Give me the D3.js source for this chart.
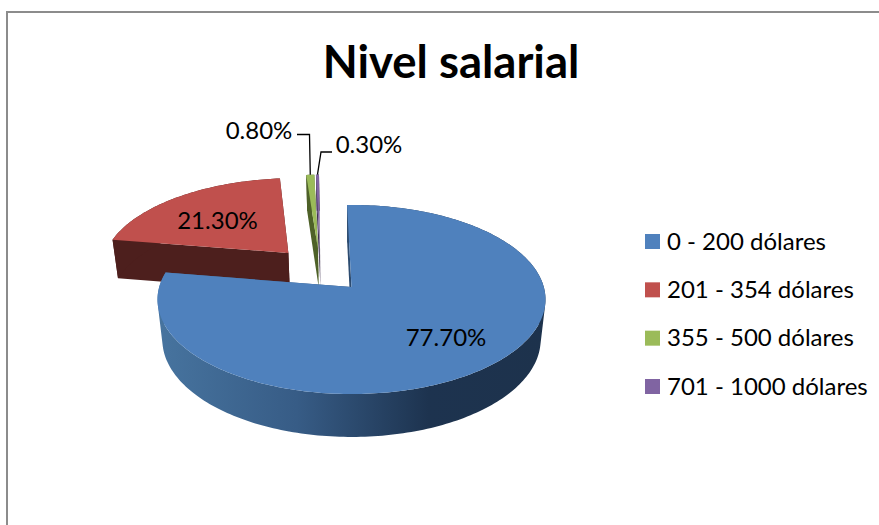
<!DOCTYPE html>
<html><head><meta charset="utf-8">
<script src="https://cdnjs.cloudflare.com/ajax/libs/d3/7.8.5/d3.min.js"></script>
<style>html,body{margin:0;padding:0;background:#fff}svg{display:block}text{font-family:Lato,"Open Sans",sans-serif;fill:#000}</style>
</head><body><svg id="c" width="879" height="525"></svg>
<script>
const categories = ["0 - 200 dólares","201 - 354 dólares","355 - 500 dólares","701 - 1000 dólares"];
const values = [77.7,21.3,0.8,0.3];
const labels = ["77.70%","21.30%","0.80%","0.30%"];
const topColors = ["#4f81bd","#c0504d","#9bbb59","#8064a2"];
const wallColors = ["url(#blueWall)","#4d1f1d","#4e6128","#3f3151"];
const explode = [[0,0],[-0.345,-0.386],[-0.185,-0.44],[-0.175,-0.44]];
const title = "Nivel salarial";

const W=879,H=525;
const svg=d3.select("#c");
const defs=svg.append("defs");
const g=defs.append("linearGradient").attr("id","blueWall").attr("gradientUnits","userSpaceOnUse")
  .attr("x1",157).attr("x2",545).attr("y1",0).attr("y2",0);
[[0,"#47749f"],[0.36,"#375c86"],[0.7,"#1d334f"],[1,"#1d324c"]].forEach(d=>g.append("stop").attr("offset",d[0]).attr("stop-color",d[1]));

// chart border
svg.append("path").attr("d","M7,525V12H879").attr("fill","none").attr("stroke","#8c8c8c").attr("stroke-width",2);

// perspective model of the disc
const cx=351.5,cy=287,A=192.3,B=92.9,K=0.132,M=0.025,D=41,rot=-1.5*Math.PI/180;
function P(u,v,z){const p=1-K*v+M*z;return [cx+A*u/p,cy+(B*v+D*z)/p];}
const pie=d3.pie().sort(null).value(d=>d);
const arcs=pie(values);
function pt(a,r,e,z){const t=a+rot*Math.max(0,Math.cos(a));return P(e[0]+r*Math.sin(t),e[1]-r*Math.cos(t),z);}
const line=d3.line();
function rim(a0,a1,e,z){
  const n=Math.max(2,Math.ceil((a1-a0)/0.02));
  return d3.range(n+1).map(i=>pt(a0+(a1-a0)*i/n,1,e,z));
}
const order=[3,2,1,0];
const sl=svg.selectAll("g.s").data(order).join("g").attr("class","s");
sl.each(function(i){
  const s=d3.select(this),a=arcs[i],e=explode[i],c=wallColors[i];
  const a0=a.startAngle,a1=a.endAngle;
  // radial walls
  [a0,a1].forEach(t=>{
    const q=[pt(t,0,e,0),pt(t,1,e,0),pt(t,1,e,1),pt(t,0,e,1)];
    s.append("path").attr("d",line(q)+"Z").attr("fill",c);
  });
  // outer wall: every rim step as a same-winding subpath of ONE path, so no seams and no cancelling
  const up=rim(a0,a1,e,0),lo=rim(a0,a1,e,1);
  const wall=d3.range(up.length-1).map(j=>{
    const q=[up[j],up[j+1],lo[j+1],lo[j]];
    if(d3.polygonArea(q)>0) q.reverse();
    return line(q)+"Z";
  }).join("");
  s.append("path").attr("d",wall).attr("fill",c);
  // top face
  const face=[pt(a0,0,e,0)].concat(up);
  s.append("path").attr("d",line(face)+"Z").attr("fill",topColors[i]);
});

// leader lines
const lead=[[[297,134.5],[309.5,134.5]],[[332,152],[321,152]]];
[2,3].forEach((i,k)=>{
  const a=arcs[i],end=pt((a.startAngle+a.endAngle)/2,1,explode[i],0);
  svg.append("path").attr("d",line(lead[k].concat([end]))).attr("fill","none").attr("stroke","#000").attr("stroke-width",1.3);
});

// value labels
const labelPos=[[446,346],[217.5,229],[259,139],[369,153]];
svg.selectAll("text.v").data(labels).join("text").attr("class","v")
  .attr("x",(d,i)=>labelPos[i][0]).attr("y",(d,i)=>labelPos[i][1])
  .attr("text-anchor","middle").attr("font-size",24).text(d=>d);

svg.append("text").attr("x",451).attr("y",78).attr("text-anchor","middle")
  .attr("font-size",45.5).attr("font-weight",700).text(title);

// legend
const ly=d3.scalePoint().domain(categories).range([241.5,386.5]);
const lg=svg.selectAll("g.l").data(categories).join("g").attr("class","l")
  .attr("transform",d=>`translate(645,${ly(d)})`);
lg.append("rect").attr("x",0).attr("y",-7.5).attr("width",15).attr("height",15).attr("fill",(d,i)=>topColors[i]);
lg.append("text").attr("x",22).attr("y",8).attr("font-size",24).text(d=>d);
</script></body></html>
